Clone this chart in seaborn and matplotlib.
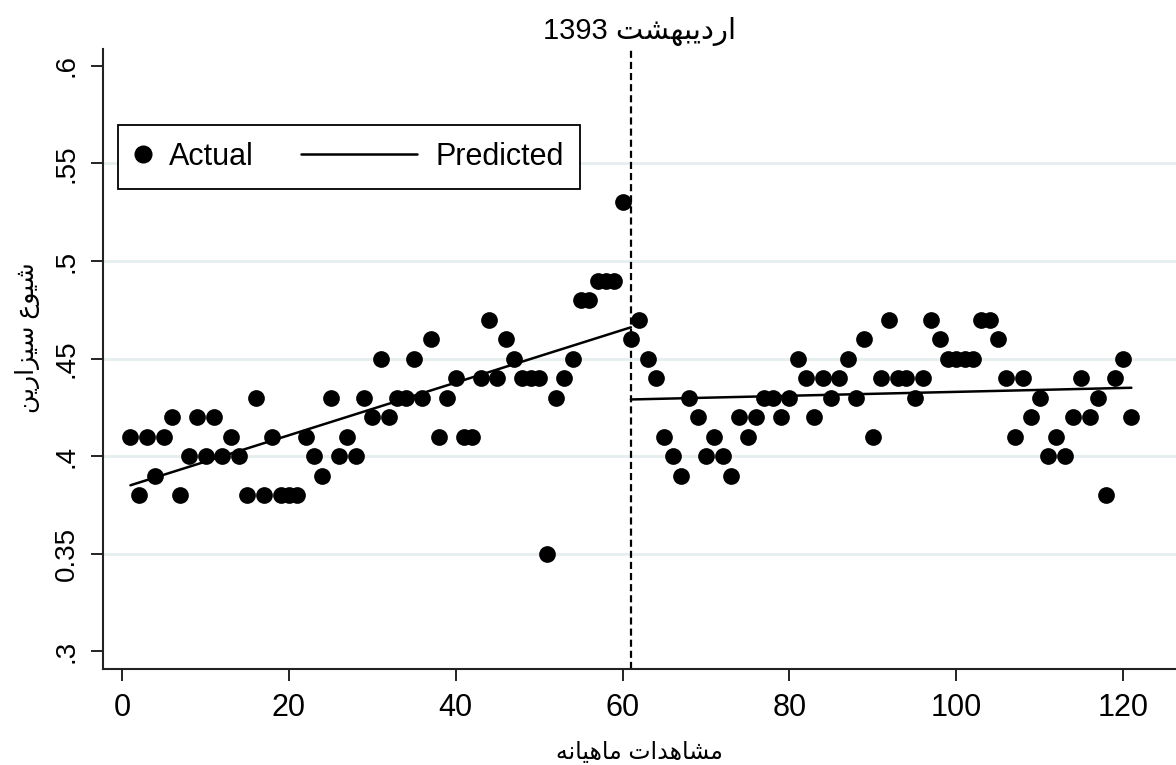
import re
import numpy as np
import pandas as pd
import seaborn as sns
import matplotlib
matplotlib.use("Agg")
import matplotlib.pyplot as plt
from matplotlib.lines import Line2D
from matplotlib.legend_handler import HandlerBase

# monthly observations and observed caesarean share
months = list(range(1, 122))
actual = [
    0.41, 0.38, 0.41, 0.39, 0.41, 0.42, 0.38, 0.40, 0.42, 0.40,
    0.42, 0.40, 0.41, 0.40, 0.38, 0.43, 0.38, 0.41, 0.38, 0.38,
    0.38, 0.41, 0.40, 0.39, 0.43, 0.40, 0.41, 0.40, 0.43, 0.42,
    0.45, 0.42, 0.43, 0.43, 0.45, 0.43, 0.46, 0.41, 0.43, 0.44,
    0.41, 0.41, 0.44, 0.47, 0.44, 0.46, 0.45, 0.44, 0.44, 0.44,
    0.35, 0.43, 0.44, 0.45, 0.48, 0.48, 0.49, 0.49, 0.49, 0.53,
    0.46, 0.47, 0.45, 0.44, 0.41, 0.40, 0.39, 0.43, 0.42, 0.40,
    0.41, 0.40, 0.39, 0.42, 0.41, 0.42, 0.43, 0.43, 0.42, 0.43,
    0.45, 0.44, 0.42, 0.44, 0.43, 0.44, 0.45, 0.43, 0.46, 0.41,
    0.44, 0.47, 0.44, 0.44, 0.43, 0.44, 0.47, 0.46, 0.45, 0.45,
    0.45, 0.45, 0.47, 0.47, 0.46, 0.44, 0.41, 0.44, 0.42, 0.43,
    0.40, 0.41, 0.40, 0.42, 0.44, 0.42, 0.43, 0.38, 0.44, 0.45,
    0.42,
]

# predicted (segmented trend) end points
pred_pre_x = [1, 61]
pred_pre_y = [0.385, 0.466]
pred_post_x = [61, 121]
pred_post_y = [0.429, 0.435]

intervention = 61

x_ticks = [0, 20, 40, 60, 80, 100, 120]
y_ticks = [0.30, 0.35, 0.40, 0.45, 0.50, 0.55, 0.60]
y_tick_labels = [".3", "0.35", ".4", ".45", ".5", ".55", ".6"]
grid_vals = [0.35, 0.40, 0.45, 0.50, 0.55]

title_txt = "اردیبهشت 1393"
xlabel_txt = "مشاهدات ماهیانه"
ylabel_txt = "شیوع سیزارین"

# matplotlib has no arabic shaping, so pick presentation forms by hand
FORMS = {
    'ا': ('\uFE8D', '\uFE8E', None, None),
    'ب': ('\uFE8F', '\uFE90', '\uFE91', '\uFE92'),
    'ت': ('\uFE95', '\uFE96', '\uFE97', '\uFE98'),
    'د': ('\uFEA9', '\uFEAA', None, None),
    'ر': ('\uFEAD', '\uFEAE', None, None),
    'ز': ('\uFEAF', '\uFEB0', None, None),
    'س': ('\uFEB1', '\uFEB2', '\uFEB3', '\uFEB4'),
    'ش': ('\uFEB5', '\uFEB6', '\uFEB7', '\uFEB8'),
    'ع': ('\uFEC9', '\uFECA', '\uFECB', '\uFECC'),
    'م': ('\uFEE1', '\uFEE2', '\uFEE3', '\uFEE4'),
    'ن': ('\uFEE5', '\uFEE6', '\uFEE7', '\uFEE8'),
    'ه': ('\uFEE9', '\uFEEA', '\uFEEB', '\uFEEC'),
    'و': ('\uFEED', '\uFEEE', None, None),
    'ی': ('\uFBFC', '\uFBFD', '\uFBFE', '\uFBFF'),
}


def shape(text):
    out = []
    for i, ch in enumerate(text):
        if ch not in FORMS:
            out.append(ch)
            continue
        prev = text[i - 1] if i > 0 else ''
        nxt = text[i + 1] if i + 1 < len(text) else ''
        jp = prev in FORMS and FORMS[prev][2] is not None
        jn = nxt in FORMS and FORMS[ch][2] is not None
        iso, fin, ini, med = FORMS[ch]
        out.append(med if (jp and jn) else fin if jp else ini if jn else iso)
    vis = ''.join(out)[::-1]
    return re.sub(r'[0-9]+', lambda m: m.group(0)[::-1], vis)


class LongLine(HandlerBase):
    """legend key: a line reaching left beyond its handle box (stata style)"""
    def create_artists(self, legend, orig_handle, xdescent, ydescent,
                       width, height, fontsize, trans):
        y = height / 2 - ydescent
        ln = Line2D([-xdescent - 3.27 * fontsize, -xdescent + width], [y, y],
                    color='black', lw=1.8)
        ln.set_transform(trans)
        return [ln]


sns.set_style('white')
plt.rcParams['font.family'] = ['Liberation Sans', 'DejaVu Sans']
plt.rcParams['text.color'] = 'black'
plt.rcParams['axes.labelcolor'] = 'black'
plt.rcParams['xtick.color'] = 'black'
plt.rcParams['ytick.color'] = 'black'

df = pd.DataFrame({'month': months, 'share': actual})

fig = plt.figure(figsize=(11.76, 7.65), dpi=100)
ax = fig.add_axes([103 / 1176, 96 / 765, 1073 / 1176, 620 / 765])

for g in grid_vals:
    ax.axhline(g, color='#e6eef0', lw=2, zorder=0)

ax.axvline(intervention, color='black', lw=1.6, ls=(0, (3.2, 1.8)), zorder=1)

sns.scatterplot(data=df, x='month', y='share', color='black', s=145,
                linewidth=0, ax=ax, zorder=3, legend=False)
sns.lineplot(x=pred_pre_x, y=pred_pre_y, color='black', lw=1.8, ax=ax, zorder=4)
sns.lineplot(x=pred_post_x, y=pred_post_y, color='black', lw=1.8, ax=ax, zorder=4)

ax.set_xlim(-2.29, 126.35)
ax.set_ylim(0.2908, 0.6087)
ax.set_xticks(x_ticks)
ax.set_xticklabels([str(t) for t in x_ticks], fontsize=22)
ax.set_yticks(y_ticks)
ax.set_yticklabels(y_tick_labels, rotation=90, va='center', fontsize=20)
ax.tick_params(axis='both', direction='out', length=8.5, width=1.4,
               color='#222222', pad=8.5, left=True, bottom=True)

sns.despine(ax=ax)
for side in ['left', 'bottom']:
    ax.spines[side].set_color('#222222')
    ax.spines[side].set_linewidth(1.5)

ax.set_xlabel(shape(xlabel_txt), fontsize=17, labelpad=14)
ax.set_ylabel(shape(ylabel_txt), fontsize=18)
ax.yaxis.set_label_coords(-0.059, 0.534)
ax.set_title(shape(title_txt), fontsize=21, pad=7)

h_act = Line2D([], [], marker='o', color='black', ls='none', markersize=12)
h_pred = Line2D([], [], color='black')
leg = ax.legend([h_act, h_pred], ['Actual', 'Predicted'], ncol=2,
                loc='upper left', bbox_to_anchor=(0.0140, 0.877),
                bbox_transform=ax.transAxes, borderaxespad=0,
                fontsize=22, handlelength=0.52, handletextpad=0.6,
                columnspacing=4.82, borderpad=0.55, fancybox=False,
                framealpha=1, edgecolor='black',
                handler_map={h_pred: LongLine()})
leg.get_frame().set_linewidth(1.3)

plt.savefig('out.png', dpi=100)
